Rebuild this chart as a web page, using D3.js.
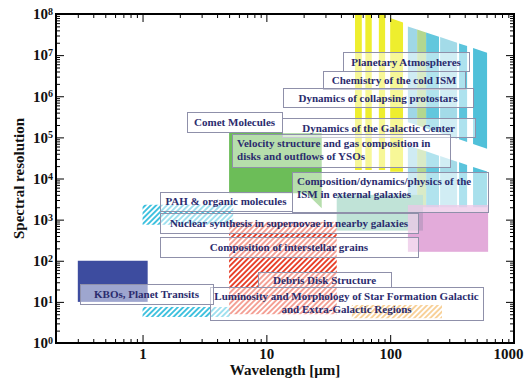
<!DOCTYPE html>
<html>
<head>
<meta charset="utf-8">
<script src="https://cdn.jsdelivr.net/npm/d3@7"></script>
<style>
  html, body { margin: 0; padding: 0; background: #fff; }
  svg { display: block; }
</style>
</head>
<body>
<svg id="chart" width="525" height="381"></svg>
<script>
// ---- axes ----
const xTickValues = [1, 10, 100, 1000];
const yTickValues = [1, 10, 1e2, 1e3, 1e4, 1e5, 1e6, 1e7, 1e8];

// ---- coverage regions: wavelength in µm, resolving power R ----
// far-IR channel strips: [λ1, λ2, R top at λ1, R top at λ2, R bottom at λ1, R bottom at λ2]
const yellowBands = [
  [52, 59, 1e8, 1e8, 1.6e4, 1.6e4],
  [63, 71, 1e8, 1e8, 1.6e4, 1.6e4],
  [81, 91, 1e8, 1e8, 1.6e4, 1.6e4],
  [100, 127, 8.0e7, 6.2e7, 1.45e4, 1.45e4]
];
const upperBands = [
  [139, 165, 4.97e7, 4.2e7, 2.32e5, 1.96e5],
  [165, 195, 4.2e7, 3.55e7, 1.96e5, 1.66e5],
  [195, 248, 3.55e7, 2.79e7, 1.66e5, 1.3e5],
  [253, 347, 2.74e7, 2.0e7, 1.28e5, 9.3e4],
  [360, 418, 1.92e7, 1.66e7, 9.0e4, 7.7e4],
  [467, 606, 1.48e7, 1.14e7, 6.9e4, 5.3e4]
];
const lowerBands = [
  [139, 165, 6.4e4, 5.4e4, 2000, 2000],
  [165, 195, 5.4e4, 4.57e4, 2000, 2000],
  [195, 248, 4.57e4, 3.59e4, 2000, 2000],
  [253, 347, 3.52e4, 2.57e4, 2000, 2000],
  [360, 418, 2.48e4, 2.13e4, 2000, 2000],
  [467, 606, 1.91e4, 1.47e4, 2000, 2000]
];
// mid-IR high-resolution coverage outline: [λ, R]
const greenOutline = [[5, 1.28e5], [28, 1.28e5], [28, 1.9e3], [21, 4.4e3], [5, 4.4e3]];
// solid blocks: [λ1, λ2, R1, R2]
const tealBlock = [37, 184, 540, 4000];
const pinkBlock = [139, 618, 165, 2270];
const blueBlock = [0.3, 1.1, 10, 100];
// hatched blocks: [λ1, λ2, R1, R2]
const cyanHatchHigh = [1.0, 5.4, 750, 2300];
const cyanHatchLow = [1.0, 5.1, 4.3, 7.5];
const redHatch = [5.0, 37, 5, 880];
const orangeHatch = [49, 262, 4, 8.4];

// science cases: text lines, wavelength span, resolution span
const scienceCases = [
  { lines: ["Planetary Atmospheres"], lam: [41.6, 434], R: [4.1e6, 1.19e7] },
  { lines: ["Chemistry of the cold ISM"], lam: [28.7, 403], R: [1.5e6, 4.1e6] },
  { lines: ["Dynamics of collapsing protostars"], lam: [13.6, 467], R: [5.5e5, 1.58e6] },
  { lines: ["Comet Molecules"], lam: [2.29, 13.4], R: [1.35e5, 4.1e5] },
  { lines: ["Dynamics of the Galactic Center"], lam: [13.4, 485], R: [1.02e5, 2.96e5] },
  { lines: ["Velocity structure and gas composition in", "disks and outflows of YSOs"], lam: [5.28, 305], R: [1.9e4, 1.21e5] },
  { lines: ["Composition/dynamics/physics of the", "ISM in external galaxies"], lam: [16.1, 618], R: [1560, 1.44e4] },
  { lines: ["PAH & organic molecules"], lam: [1.38, 16.1], R: [1620, 4700] },
  { lines: ["Nuclear synthesis in supernovae in nearby galaxies"], lam: [1.38, 168], R: [473, 1450] },
  { lines: ["Composition of interstellar grains"], lam: [1.38, 168], R: [123, 378] },
  { lines: ["Debris Disk Structure"], lam: [8.57, 102], R: [23, 53] },
  { lines: ["Luminosity and Morphology of Star Formation Galactic", "and Extra-Galactic Regions"], lam: [3.5, 563], R: [3.6, 23] },
  { lines: ["KBOs, Planet Transits"], lam: [0.313, 3.71], R: [8.9, 27] }
];
const leftAlignedCases = new Set([5, 6]);

// ---- styling ----
const bandColours = ["#9fd7e6", "#b3d78f", "#62c7dd", "#a3dbe8", "#5bc4dc", "#50c0d9"];
const serif = '"Liberation Serif", "Times New Roman", serif';
const labelColour = "#2b2c6e";

const svg = d3.select("#chart");
const x = d3.scaleLog().domain([0.2, 1000]).range([56, 514]);
const y = d3.scaleLog().domain([1, 1e8]).range([343, 14]);
const [xl, xr] = x.range();
const [yb, yt] = y.range();

const defs = svg.append("defs");
defs.append("clipPath").attr("id", "plotClip").append("rect")
  .attr("x", xl).attr("y", yt).attr("width", xr - xl).attr("height", yb - yt);

function hatch(id, colour) {
  const p = defs.append("pattern").attr("id", id)
    .attr("patternUnits", "userSpaceOnUse")
    .attr("width", 3.8).attr("height", 3.8)
    .attr("patternTransform", "rotate(45)");
  p.append("rect").attr("width", 1.9).attr("height", 3.8).attr("fill", colour);
}
hatch("hatchRed", "#e8402a");
hatch("hatchCyan", "#3fc1de");
hatch("hatchOrange", "#f0a232");

const plot = svg.append("g").attr("clip-path", "url(#plotClip)");

const line = d3.line().x(d => x(d[0])).y(d => y(d[1]));
const bandPath = b => line([[b[0], b[2]], [b[1], b[3]], [b[1], b[5]], [b[0], b[4]]]) + "Z";
const rectOf = (sel, b) => sel
  .attr("x", x(b[0])).attr("width", x(b[1]) - x(b[0]))
  .attr("y", y(b[3])).attr("height", y(b[2]) - y(b[3]));

// far-IR strips
plot.append("g").selectAll("path").data(yellowBands).join("path")
  .attr("d", bandPath).attr("fill", "#eeee2e");
plot.append("g").selectAll("path").data(upperBands).join("path")
  .attr("d", bandPath).attr("fill", (d, i) => bandColours[i]);
plot.append("g").selectAll("path").data(lowerBands).join("path")
  .attr("d", bandPath).attr("fill", (d, i) => bandColours[i]);

// mid-IR high-resolution region
plot.append("path").attr("d", line(greenOutline) + "Z").attr("fill", "#6cbd58");

// solid blocks
rectOf(plot.append("rect"), tealBlock).attr("fill", "#80c6ae");
rectOf(plot.append("rect"), pinkBlock).attr("fill", "#d98fcd").attr("fill-opacity", 0.75);
rectOf(plot.append("rect"), blueBlock).attr("fill", "#3d4c9f");

// hatched blocks
rectOf(plot.append("rect"), cyanHatchHigh).attr("fill", "url(#hatchCyan)");
rectOf(plot.append("rect"), cyanHatchLow).attr("fill", "url(#hatchCyan)");
rectOf(plot.append("rect"), redHatch).attr("fill", "url(#hatchRed)");
rectOf(plot.append("rect"), orangeHatch).attr("fill", "url(#hatchOrange)");

// science-case boxes
const cases = svg.append("g");
scienceCases.forEach((d, i) => {
  const x0 = x(d.lam[0]), x1 = x(d.lam[1]);
  const y0 = y(d.R[1]), y1 = y(d.R[0]);
  cases.append("rect")
    .attr("x", Math.round(x0) + 0.5).attr("y", Math.round(y0) + 0.5)
    .attr("width", Math.round(x1 - x0)).attr("height", Math.round(y1 - y0))
    .attr("fill", "#fff").attr("fill-opacity", 0.5)
    .attr("stroke", "#8f90aa").attr("stroke-width", 1);
  const left = leftAlignedCases.has(i);
  const t = cases.append("text")
    .attr("font-family", serif).attr("font-weight", "bold").attr("font-size", 11)
    .attr("fill", labelColour)
    .attr("text-anchor", left ? "start" : "middle");
  const tx = left ? x0 + 5 : (x0 + x1) / 2;
  const firstBase = d.lines.length > 1 ? y0 + 13 : (y0 + y1) / 2 + 4;
  d.lines.forEach((s, k) => {
    t.append("tspan").attr("x", tx).attr("y", firstBase + k * 13).text(s);
  });
});

// ---- axes ----
const xMinor = [];
[0.1, 1, 10, 100].forEach(dec => { for (let k = 2; k <= 9; k++) { const v = k * dec; if (v > 0.2 && v < 1000) xMinor.push(v); } });
const yMinor = [];
[1, 10, 1e2, 1e3, 1e4, 1e5, 1e6, 1e7].forEach(dec => { for (let k = 2; k <= 9; k++) yMinor.push(k * dec); });

const axesG = svg.append("g");
function addAxis(gen, translate, values, size, fmt) {
  const g = axesG.append("g").attr("transform", translate)
    .call(gen.tickValues(values).tickSize(size).tickFormat(fmt || ""));
  g.select(".domain").remove();
  g.selectAll(".tick line").attr("stroke", "#000").attr("stroke-width", 1);
  g.attr("font-family", serif).attr("font-weight", "bold").attr("font-size", 15);
  return g;
}
// minor ticks on every side
addAxis(d3.axisBottom(x), `translate(0,${yb})`, xMinor, -4);
addAxis(d3.axisTop(x), `translate(0,${yt})`, xMinor, -4);
addAxis(d3.axisLeft(y), `translate(${xl},0)`, yMinor, -4);
addAxis(d3.axisRight(y), `translate(${xr},0)`, yMinor, -4);
// major ticks
const gx = addAxis(d3.axisBottom(x).tickPadding(5), `translate(0,${yb})`, xTickValues, -8, d => String(d));
gx.selectAll(".tick text").attr("fill", "#111").attr("dx", d => d === 1000 ? -6 : 0);
addAxis(d3.axisTop(x), `translate(0,${yt})`, xTickValues, -8);
const gy = addAxis(d3.axisLeft(y).tickPadding(3), `translate(${xl},0)`, yTickValues, -8);
gy.selectAll(".tick text").each(function (d) {
  const t = d3.select(this).attr("fill", "#111");
  t.text("10");
  t.append("tspan").attr("dy", "-0.42em").attr("font-size", 10).text(Math.round(Math.log10(d)));
});
addAxis(d3.axisRight(y), `translate(${xr},0)`, yTickValues, -8);

// frame
svg.append("rect").attr("x", xl).attr("y", yt)
  .attr("width", xr - xl).attr("height", yb - yt)
  .attr("fill", "none").attr("stroke", "#000").attr("stroke-width", 2);

// axis titles
svg.append("text").attr("x", (xl + xr) / 2).attr("y", 375)
  .attr("text-anchor", "middle").attr("font-family", serif).attr("font-weight", "bold")
  .attr("font-size", 15).attr("fill", "#111").text("Wavelength [μm]");
svg.append("text").attr("transform", `translate(24,${(yt + yb) / 2}) rotate(-90)`)
  .attr("text-anchor", "middle").attr("font-family", serif).attr("font-weight", "bold")
  .attr("font-size", 15).attr("fill", "#111").text("Spectral resolution");
</script>
</body>
</html>
